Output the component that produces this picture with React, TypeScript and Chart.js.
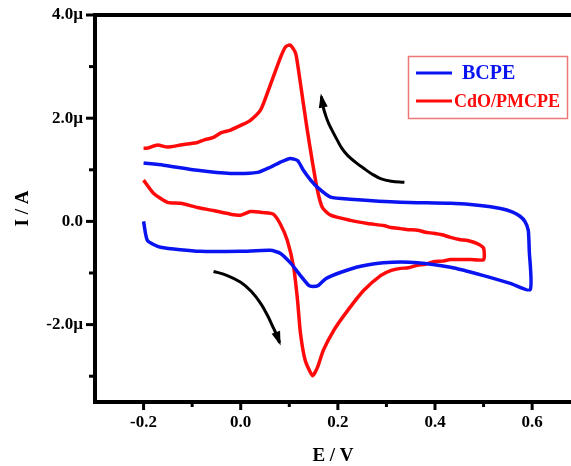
import React, { useEffect, useRef } from 'react';
import { Chart, registerables } from 'chart.js';
Chart.register(...registerables);

// BCPE (blue) cyclic voltammogram, in order of the scan
const bcpeE = [-0.2, -0.192, -0.165, -0.083, 0.0, 0.061, 0.082, 0.102, 0.123, 0.14, 0.148, 0.16, 0.175, 0.205, 0.247, 0.294, 0.364, 0.432, 0.5, 0.555, 0.596,
  0.594, 0.592, 0.585, 0.575, 0.56, 0.535, 0.493, 0.432, 0.329, 0.226, 0.185, 0.158, 0.144, 0.129, 0.117, 0.102, 0.082, 0.061, 0.035, -0.021, -0.089, -0.159, -0.2];
const bcpeI = [0.0, -0.37, -0.5, -0.58, -0.58, -0.56, -0.62, -0.8, -1.05, -1.24, -1.26, -1.24, -1.11, -0.99, -0.87, -0.8, -0.8, -0.89, -1.05, -1.2, -1.32,
  -0.56, -0.17, 0.0, 0.1, 0.18, 0.25, 0.31, 0.35, 0.37, 0.43, 0.47, 0.66, 0.8, 0.99, 1.18, 1.22, 1.15, 1.05, 0.95, 0.93, 0.99, 1.09, 1.13];

// CdO/PMCPE (red) cyclic voltammogram, in order of the scan
const cdoE = [-0.2, -0.179, -0.151, -0.124, -0.089, -0.056, -0.021, 0.0, 0.02, 0.047, 0.067, 0.082, 0.096, 0.109, 0.117, 0.123, 0.133, 0.148, 0.158, 0.17, 0.191, 0.22, 0.253, 0.288, 0.31, 0.329, 0.345, 0.364, 0.38, 0.397, 0.415, 0.432, 0.473, 0.5,
  0.5, 0.487, 0.467, 0.45, 0.432, 0.415, 0.397, 0.38, 0.364, 0.345, 0.329, 0.31, 0.294, 0.261, 0.226, 0.185, 0.168, 0.158, 0.148, 0.137, 0.127, 0.119, 0.113, 0.102, 0.092, 0.082, 0.067, 0.055, 0.041, 0.02, 0.0, -0.021, -0.04, -0.056, -0.075, -0.089, -0.11, -0.124, -0.151, -0.171, -0.192, -0.2];
const cdoI = [0.8, 0.54, 0.37, 0.35, 0.27, 0.21, 0.14, 0.12, 0.19, 0.17, 0.14, -0.06, -0.37, -0.89, -1.53, -2.17, -2.7, -2.99, -2.83, -2.5, -2.12, -1.73, -1.34, -1.05, -0.95, -0.91, -0.9, -0.85, -0.83, -0.78, -0.77, -0.74, -0.74, -0.74,
  -0.52, -0.43, -0.37, -0.35, -0.31, -0.26, -0.23, -0.21, -0.17, -0.16, -0.14, -0.12, -0.08, -0.04, 0.02, 0.12, 0.27, 0.6, 1.13, 1.77, 2.41, 2.93, 3.26, 3.42, 3.38, 3.18, 2.8, 2.49, 2.16, 1.96, 1.86, 1.77, 1.72, 1.63, 1.58, 1.53, 1.5, 1.48, 1.44, 1.48, 1.42, 1.42];

// scan-direction arrows
const arrowUpE = [0.337, 0.31, 0.288, 0.27, 0.253, 0.236, 0.22, 0.208, 0.199, 0.19, 0.181, 0.175, 0.17, 0.166];
const arrowUpI = [0.76, 0.78, 0.83, 0.92, 1.03, 1.15, 1.28, 1.42, 1.57, 1.73, 1.9, 2.05, 2.21, 2.42];
const arrowDownE = [-0.056, -0.03, 0.0, 0.022, 0.041, 0.055, 0.067, 0.075, 0.08];
const arrowDownI = [-0.97, -1.04, -1.18, -1.36, -1.59, -1.82, -2.06, -2.22, -2.35];

const xTickValues = [-0.2, -0.1, 0.0, 0.1, 0.2, 0.3, 0.4, 0.5, 0.6];
const xMajorTicks = [-0.2, 0.0, 0.2, 0.4, 0.6];
const yTickValues = [-3, -2, -1, 0, 1, 2, 3, 4];
const yMajorTicks = [-2, 0, 2, 4];
const yTickLabels = ['-2.0µ', '0.0', '2.0µ', '4.0µ'];

const seriesNames = ['BCPE', 'CdO/PMCPE'];
const seriesColors = ['#0a14f0', '#ff0a0a'];

const FONT = '"Liberation Serif", "Times New Roman", serif';

const pts = (xs: number[], ys: number[]) => xs.map((x, i) => ({ x, y: ys[i] }));
const isMajor = (v: number, arr: number[]) => arr.some((m) => Math.abs(m - v) < 1e-6);

export default function App() {
  const ref = useRef<HTMLCanvasElement | null>(null);
  useEffect(() => {
    document.body.style.margin = '0';
    const canvas = ref.current!;
    const decor = {
      id: 'decor',
      afterDraw(chart: any) {
        const ctx = chart.ctx;
        const { left, top, bottom } = chart.chartArea;
        const xs = chart.scales.x;
        const ys = chart.scales.y;
        ctx.save();
        // top frame line
        ctx.strokeStyle = '#000';
        ctx.lineWidth = 4;
        ctx.beginPath();
        ctx.moveTo(left - 2, top);
        ctx.lineTo(chart.width, top);
        ctx.stroke();
        // ticks
        ctx.lineWidth = 3;
        xTickValues.forEach((v) => {
          const px = xs.getPixelForValue(v);
          const len = isMajor(v, xMajorTicks) ? 8 : 5;
          ctx.beginPath();
          ctx.moveTo(px, bottom);
          ctx.lineTo(px, bottom + len);
          ctx.stroke();
        });
        yTickValues.forEach((v) => {
          const py = ys.getPixelForValue(v);
          const len = isMajor(v, yMajorTicks) ? 9 : 6;
          ctx.beginPath();
          ctx.moveTo(left, py);
          ctx.lineTo(left - len, py);
          ctx.stroke();
        });
        // arrow heads
        [[arrowUpE, arrowUpI], [arrowDownE, arrowDownI]].forEach(([ae, ai]) => {
          const n = ae.length;
          const x1 = xs.getPixelForValue(ae[n - 2]);
          const y1 = ys.getPixelForValue(ai[n - 2]);
          const x2 = xs.getPixelForValue(ae[n - 1]);
          const y2 = ys.getPixelForValue(ai[n - 1]);
          const ang = Math.atan2(y2 - y1, x2 - x1);
          const L = 11, W = 4.5;
          ctx.fillStyle = '#000';
          ctx.beginPath();
          ctx.moveTo(x2 + Math.cos(ang) * 3, y2 + Math.sin(ang) * 3);
          ctx.lineTo(x2 - Math.cos(ang) * L + Math.sin(ang) * W, y2 - Math.sin(ang) * L - Math.cos(ang) * W);
          ctx.lineTo(x2 - Math.cos(ang) * L - Math.sin(ang) * W, y2 - Math.sin(ang) * L + Math.cos(ang) * W);
          ctx.closePath();
          ctx.fill();
        });
        // legend
        ctx.strokeStyle = '#ee7777';
        ctx.lineWidth = 1.5;
        ctx.strokeRect(408.5, 56.5, 159, 62);
        const rows = [73, 101];
        seriesNames.forEach((name, i) => {
          ctx.strokeStyle = seriesColors[i];
          ctx.lineWidth = 3;
          ctx.beginPath();
          ctx.moveTo(416, rows[i]);
          ctx.lineTo(452, rows[i]);
          ctx.stroke();
          ctx.fillStyle = seriesColors[i];
          ctx.font = `bold ${i === 0 ? 20 : 18}px ${FONT}`;
          ctx.textBaseline = 'middle';
          ctx.textAlign = 'left';
          ctx.fillText(name, i === 0 ? 462 : 454, rows[i] + 1);
        });
        ctx.restore();
      },
    };

    const chart = new Chart(canvas, {
      type: 'scatter',
      data: {
        datasets: [
          { label: seriesNames[0], data: pts(bcpeE, bcpeI), showLine: true, borderColor: seriesColors[0], borderWidth: 3.5, pointRadius: 0, tension: 0.2 },
          { label: seriesNames[1], data: pts(cdoE, cdoI), showLine: true, borderColor: seriesColors[1], borderWidth: 3.5, pointRadius: 0, tension: 0.2 },
          { label: 'arrow1', data: pts(arrowUpE, arrowUpI), showLine: true, borderColor: '#000', borderWidth: 3, pointRadius: 0, tension: 0.4 },
          { label: 'arrow2', data: pts(arrowDownE, arrowDownI), showLine: true, borderColor: '#000', borderWidth: 3, pointRadius: 0, tension: 0.4 },
        ],
      },
      options: {
        animation: false,
        responsive: false,
        layout: { padding: { top: 15, left: 0, right: 0, bottom: 0 } },
        plugins: { legend: { display: false }, tooltip: { enabled: false } },
        scales: {
          x: {
            type: 'linear',
            min: -0.3,
            max: 0.68,
            afterFit: (s: any) => { s.height = 64; s.paddingLeft = 0; s.paddingRight = 0; },
            afterBuildTicks: (s: any) => { s.ticks = xTickValues.map((v) => ({ value: v })); },
            grid: { display: false, drawTicks: false },
            border: { display: true, color: '#000', width: 4 },
            ticks: {
              padding: 10,
              color: '#000',
              autoSkip: false,
              maxRotation: 0,
              font: { family: FONT, size: 17, weight: 'bold' },
              callback: (v: any) => (isMajor(Number(v), xMajorTicks) ? Number(v).toFixed(1) : ''),
            },
            title: { display: true, text: 'E / V', color: '#000', font: { family: FONT, size: 19, weight: 'bold', lineHeight: 1 }, padding: { top: 0, bottom: 0 } },
          },
          y: {
            type: 'linear',
            min: -3.5,
            max: 4.0,
            afterFit: (s: any) => { s.width = 95; s.paddingTop = 0; s.paddingBottom = 0; },
            afterBuildTicks: (s: any) => { s.ticks = yTickValues.map((v) => ({ value: v })); },
            grid: { display: false, drawTicks: false },
            border: { display: true, color: '#000', width: 4 },
            ticks: {
              padding: 12,
              color: '#000',
              autoSkip: false,
              font: { family: FONT, size: 17, weight: 'bold' },
              callback: (v: any) => {
                const idx = yMajorTicks.findIndex((m) => Math.abs(m - Number(v)) < 1e-6);
                return idx >= 0 ? yTickLabels[idx] : '';
              },
            },
            title: { display: true, text: 'I / A', color: '#000', font: { family: FONT, size: 19, weight: 'bold', lineHeight: 1 }, padding: { top: 14, bottom: 0 } },
          },
        },
      },
      plugins: [decor],
    } as any);
    return () => chart.destroy();
  }, []);
  return (
    <div style={{ width: 571, height: 466 }}>
      <canvas ref={ref} width={571} height={466} style={{ display: 'block' }} />
    </div>
  );
}
